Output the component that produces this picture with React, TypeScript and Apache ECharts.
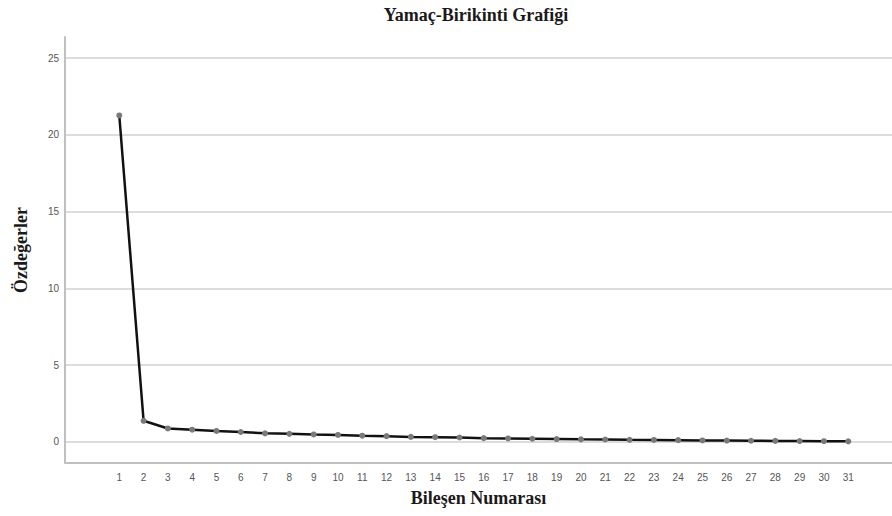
import React, { useEffect, useRef } from "react";
import * as echarts from "echarts";

const components: number[] = Array.from({ length: 31 }, (_, i) => i + 1);
const eigenvalues: number[] = [
  21.27, 1.38, 0.88, 0.8, 0.72, 0.65, 0.56, 0.53, 0.49, 0.46, 0.41, 0.38, 0.33,
  0.31, 0.29, 0.25, 0.23, 0.21, 0.19, 0.17, 0.16, 0.14, 0.13, 0.12, 0.1, 0.09,
  0.08, 0.07, 0.06, 0.05, 0.04,
];
const yTicks: number[] = [0, 5, 10, 15, 20, 25];

const title = "Yamaç-Birikinti Grafiği";
const xName = "Bileşen Numarası";
const yName = "Özdeğerler";

export default function App() {
  const ref = useRef<HTMLDivElement>(null);
  useEffect(() => {
    if (!ref.current) return;
    const chart = echarts.init(ref.current, undefined, { renderer: "svg" });
    const serif = "Liberation Serif";
    const sans = "Liberation Sans";
    chart.setOption({
      animation: false,
      backgroundColor: "#ffffff",
      title: {
        text: title,
        left: 471,
        top: 1,
        textAlign: "center",
        textStyle: {
          fontFamily: serif,
          fontWeight: "bold",
          fontSize: 18,
          color: "#1a1a1a",
        },
      },
      grid: { left: 65, right: 0, top: 37, bottom: 53 },
      xAxis: {
        type: "value",
        min: -1.234,
        max: 32.8,
        name: xName,
        nameLocation: "middle",
        nameGap: 26,
        nameTextStyle: {
          fontFamily: serif,
          fontWeight: "bold",
          fontSize: 18,
          color: "#1a1a1a",
        },
        axisLine: { show: true, onZero: false, lineStyle: { color: "#c0c0c0", width: 2 } },
        axisTick: { show: false, customValues: components },
        axisLabel: {
          customValues: components,
          fontFamily: sans,
          fontSize: 10,
          color: "#555555",
          margin: 9,
        },
        splitLine: { show: false },
      },
      yAxis: {
        type: "value",
        min: -1.37,
        max: 26.38,
        name: yName,
        nameLocation: "middle",
        nameGap: 35,
        nameRotate: 90,
        nameTextStyle: {
          fontFamily: serif,
          fontWeight: "bold",
          fontSize: 18,
          color: "#1a1a1a",
        },
        axisLine: { show: true, onZero: false, lineStyle: { color: "#c0c0c0", width: 2 } },
        axisTick: { show: false, customValues: yTicks },
        axisLabel: {
          customValues: yTicks,
          fontFamily: sans,
          fontSize: 10,
          color: "#555555",
          margin: 6,
        },
        splitLine: { show: true, lineStyle: { color: "#dcdcdc", width: 2 } },
      },
      series: [
        {
          type: "line",
          data: components.map((c, i) => [c, eigenvalues[i]]),
          symbol: "circle",
          symbolSize: 6,
          lineStyle: { color: "#111111", width: 2.5 },
          itemStyle: { color: "#7a7a7a" },
          z: 3,
        },
      ],
    });
    return () => chart.dispose();
  }, []);
  return (
    <div
      ref={ref}
      style={{ position: "fixed", left: 0, top: 0, width: 892, height: 516 }}
    />
  );
}
